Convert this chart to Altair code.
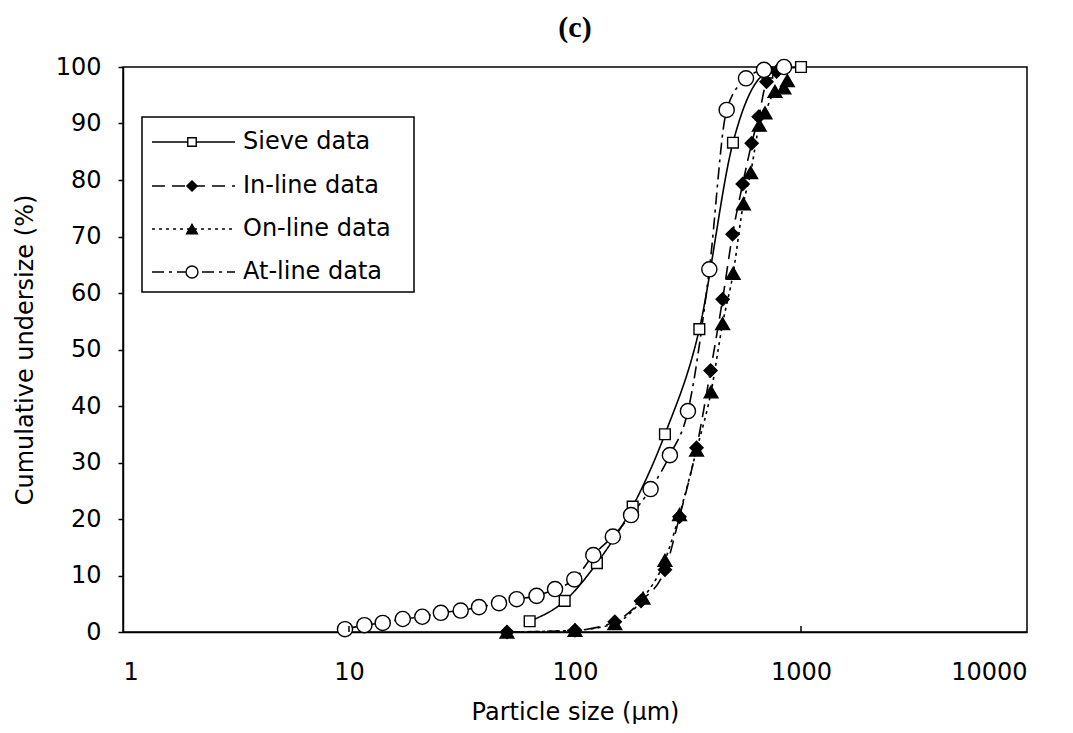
import altair as alt
import pandas as pd

# ---- data ----
sieve_x = [63, 90, 125, 180, 250, 355, 500, 710, 1000]
sieve_y = [1.9, 5.5, 12.2, 22.2, 35.0, 53.6, 86.6, 99.0, 100.0]

inline_x = [50, 100, 150, 196, 250, 290, 345, 398, 450, 498, 552, 605, 650, 704, 780]
inline_y = [0.0, 0.3, 1.8, 5.5, 11.0, 20.4, 32.6, 46.3, 58.9, 70.4, 79.3, 86.5, 91.2, 97.4, 99.2]

online_x = [50, 100, 150, 200, 250, 290, 345, 400, 450, 501, 556, 599, 654, 693, 767, 840, 870]
online_y = [0.0, 0.3, 1.5, 6.0, 12.7, 20.8, 32.2, 42.5, 54.6, 63.5, 75.8, 81.3, 89.7, 91.9, 95.7, 96.3, 97.6]

atline_x = [9.6, 11.7, 14.1, 17.3, 21.1, 25.5, 31.2, 37.6, 46.1, 55.2, 67.6, 81.6, 99.3,
            120.5, 147, 177, 216, 263, 316, 393, 469, 571, 686, 841]
atline_y = [0.5, 1.2, 1.6, 2.3, 2.7, 3.4, 3.8, 4.4, 5.1, 5.8, 6.4, 7.6, 9.3,
            13.6, 16.9, 20.7, 25.3, 31.3, 39.1, 64.2, 92.4, 98.0, 99.5, 100.0]

series_names = ["Sieve data", "In-line data", "On-line data", "At-line data"]
x_ticks = [1, 10, 100, 1000, 10000]
y_ticks = [0, 10, 20, 30, 40, 50, 60, 70, 80, 90, 100]

W, H = 904, 565
FONT = "DejaVu Sans"
FS = 24

styles = {
    "Sieve data":   dict(dash=[1, 0],          shape="square",       fill="white", size=115),
    "In-line data": dict(dash=[13, 7],         shape="diamond",      fill="black", size=170),
    "On-line data": dict(dash=[3, 4],          shape="triangle-up",  fill="black", size=190),
    "At-line data": dict(dash=[12, 5, 3, 5],   shape="circle",       fill="white", size=230),
}

data = {
    "Sieve data": (sieve_x, sieve_y),
    "In-line data": (inline_x, inline_y),
    "On-line data": (online_x, online_y),
    "At-line data": (atline_x, atline_y),
}

xscale = alt.Scale(type="log", domain=[1, 10000], nice=False)
yscale = alt.Scale(domain=[0, 100], nice=False)

xaxis = alt.Axis(values=x_ticks, labelExpr="format(datum.value, 'd')", title="Particle size (µm)",
                 tickSize=0, labelPadding=28, titlePadding=16, grid=False)
yaxis = alt.Axis(values=y_ticks, title="Cumulative undersize (%)", tickSize=5, labelPadding=17,
                 titlePadding=18, grid=False)


def X():
    return alt.X("x:Q", scale=xscale, axis=xaxis)


def Y():
    return alt.Y("y:Q", scale=yscale, axis=yaxis)


layers = []
for name in series_names:
    xs, ys = data[name]
    df = pd.DataFrame({"x": xs, "y": ys})
    st = styles[name]
    line = alt.Chart(df).mark_line(color="black", strokeWidth=1.6, strokeDash=st["dash"],
                                   interpolate="monotone").encode(x=X(), y=Y())
    layers.append(line)

for name in series_names:
    xs, ys = data[name]
    df = pd.DataFrame({"x": xs, "y": ys})
    st = styles[name]
    pts = alt.Chart(df).mark_point(shape=st["shape"], filled=True, fill=st["fill"], stroke="black",
                                   strokeWidth=1.4, size=st["size"], opacity=1).encode(x=X(), y=Y())
    layers.append(pts)

# inward x ticks
tick_df = pd.DataFrame({"x": [10, 100, 1000]})
ticks = alt.Chart(tick_df).mark_rule(color="black", strokeWidth=1.5).encode(
    x=X(), y=alt.value(H), y2=alt.value(H - 6))
layers.append(ticks)

# legend (decoration)
one = pd.DataFrame({"k": [0]})
box = alt.Chart(one).mark_rect(fill="white", stroke="black", strokeWidth=1.5).encode(
    x=alt.value(19), x2=alt.value(291), y=alt.value(50), y2=alt.value(225))
layers.append(box)
row_y = [75, 119, 162, 205]
for i, name in enumerate(series_names):
    st = styles[name]
    seg = alt.Chart(one).mark_rule(color="black", strokeWidth=1.6, strokeDash=st["dash"]).encode(
        x=alt.value(29), x2=alt.value(112), y=alt.value(row_y[i]))
    mk = alt.Chart(one).mark_point(shape=st["shape"], filled=True, fill=st["fill"], stroke="black",
                                   strokeWidth=1.4, size=st["size"] * 0.62, opacity=1).encode(
        x=alt.value(69), y=alt.value(row_y[i]))
    tx = alt.Chart(one).mark_text(text=name, align="left", baseline="middle", font=FONT,
                                  fontSize=FS, color="black").encode(
        x=alt.value(120), y=alt.value(row_y[i]))
    layers += [seg, mk, tx]

chart = alt.layer(*layers).properties(
    width=W, height=H,
    background="white",
    padding={"left": 5, "top": 5, "right": 5, "bottom": 0},
    title=alt.TitleParams("(c)", font="Liberation Serif", fontWeight="bold", fontSize=30,
                          anchor="middle", offset=12, color="black"),
).configure_view(stroke="black", strokeWidth=1.5).configure_axis(
    labelFont=FONT, titleFont=FONT, labelFontSize=FS, titleFontSize=FS,
    labelColor="black", titleColor="black", titleFontWeight="normal",
    domainColor="black", domainWidth=1.5, tickColor="black", tickWidth=1.5,
)

chart.save("out.html", embed_options={"renderer": "svg", "actions": False})
